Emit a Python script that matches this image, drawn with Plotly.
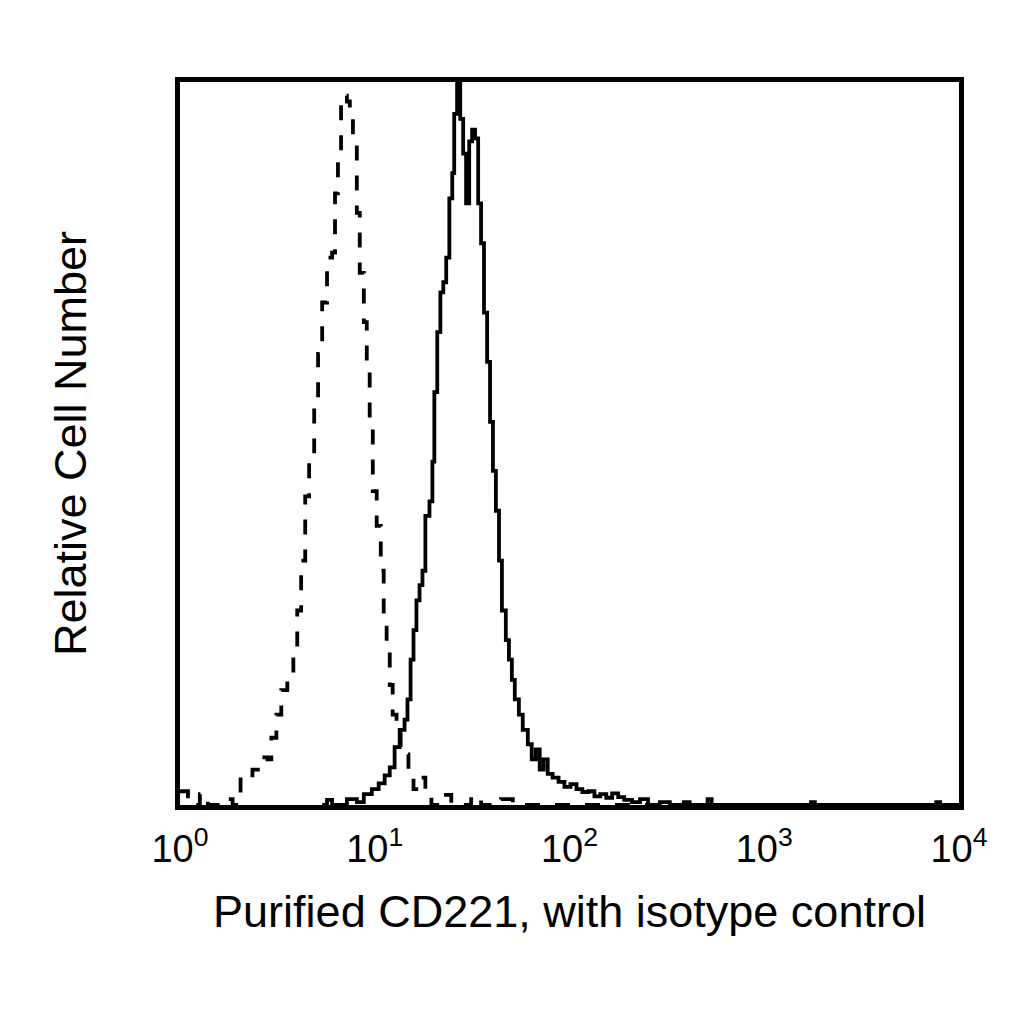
import plotly.graph_objects as go

# Isotype control (dashed): channel position in decades (log10 intensity) and relative count
iso_dec = [0.000, 0.041, 0.102, 0.143, 0.219, 0.270, 0.311, 0.321, 0.372, 0.413,
           0.449, 0.469, 0.495, 0.520, 0.551, 0.582, 0.602, 0.622, 0.643, 0.663,
           0.689, 0.709, 0.730, 0.755, 0.781, 0.796, 0.811, 0.827, 0.842, 0.857,
           0.872, 0.888, 0.908, 0.923, 0.944, 0.959, 0.974, 0.990, 1.010, 1.031,
           1.046, 1.061, 1.077, 1.092, 1.112, 1.133, 1.153, 1.173, 1.199, 1.230,
           1.260, 1.291, 1.342, 1.393, 1.495, 1.546, 1.648, 1.709, 4.000]
iso_cnt = [1.9, 0.0, 1.5, 0.0, 0.8, 0.0, 3.8, 3.6, 4.9, 6.6,
           6.3, 9.3, 12.5, 15.9, 17.3, 21.4, 26.9, 33.8, 42.7, 48.9,
           55.8, 62.4, 69.5, 75.7, 76.4, 84.6, 90.1, 97.0, 98.1, 97.3,
           95.6, 91.5, 81.9, 73.6, 66.8, 61.3, 53.0, 43.4, 38.6, 32.4,
           25.5, 21.4, 16.6, 12.5, 9.8, 8.0, 7.0, 4.3, 2.2, 3.8,
           2.2, 0.0, 1.4, 0.0, 1.2, 0.0, 0.8, 0.0, 0.0]

# Purified CD221 (solid)
cd_dec = [0.730, 0.755, 0.781, 0.857, 0.908, 0.944, 0.985, 1.020, 1.051, 1.077,
          1.102, 1.128, 1.153, 1.168, 1.184, 1.199, 1.214, 1.230, 1.245, 1.260,
          1.281, 1.296, 1.306, 1.321, 1.337, 1.352, 1.367, 1.383, 1.398, 1.408,
          1.423, 1.439, 1.454, 1.469, 1.485, 1.500, 1.515, 1.531, 1.546, 1.561,
          1.577, 1.592, 1.607, 1.622, 1.638, 1.653, 1.673, 1.689, 1.704, 1.719,
          1.740, 1.760, 1.786, 1.806, 1.827, 1.847, 1.867, 1.888, 1.913, 1.944,
          1.974, 2.005, 2.036, 2.066, 2.097, 2.128, 2.158, 2.189, 2.219, 2.250,
          2.281, 2.321, 2.362, 2.403, 2.464, 2.515, 2.587, 2.617, 2.709, 2.730,
          3.240, 3.260, 3.883, 3.903, 4.000]
cd_cnt = [0.0, 0.7, 0.0, 0.8, 0.4, 1.5, 2.2, 3.0, 4.1, 5.2,
          8.0, 10.4, 11.8, 14.6, 20.1, 24.2, 28.3, 30.4, 32.4, 40.0,
          42.0, 47.5, 57.1, 65.4, 70.9, 72.3, 75.7, 83.9, 87.4, 95.6,
          102.0, 94.9, 90.1, 83.2, 91.8, 93.4, 92.2, 83.2, 77.7, 68.1,
          61.3, 53.0, 46.2, 40.7, 33.8, 26.9, 22.8, 20.1, 17.3, 14.6,
          12.5, 10.4, 8.4, 6.3, 7.7, 4.9, 6.3, 4.3, 3.8, 3.2,
          2.5, 2.9, 2.2, 1.8, 1.9, 1.2, 1.5, 1.0, 1.6, 1.1,
          0.7, 0.4, 0.8, 0.0, 0.4, 0.0, 0.4, 0.0, 0.8, 0.0,
          0.4, 0.0, 0.4, 0.0, 0.0]

tick_vals = [1, 10, 100, 1000, 10000]
tick_text = ["10<sup>0</sup>", "10<sup>1</sup>", "10<sup>2</sup>", "10<sup>3</sup>", "10<sup>4</sup>"]

FONT = "Liberation Sans, Arial, sans-serif"

fig = go.Figure()
fig.add_trace(go.Scatter(
    x=[10 ** d for d in iso_dec], y=iso_cnt, mode="lines", line_shape="hv",
    line=dict(color="black", width=3.8, dash="15px,15px"), showlegend=False,
))
fig.add_trace(go.Scatter(
    x=[10 ** d for d in cd_dec], y=cd_cnt, mode="lines", line_shape="hv",
    line=dict(color="black", width=3.8), showlegend=False,
))

fig.update_layout(
    width=1024, height=1024,
    margin=dict(l=172, r=73, t=74, b=227),
    paper_bgcolor="white", plot_bgcolor="white",
    font=dict(family=FONT, color="black"),
    xaxis=dict(
        type="log", range=[0, 4], showgrid=False, zeroline=False,
        showline=True, linecolor="black", linewidth=5, mirror=True,
        ticks="", tickvals=tick_vals, ticktext=tick_text,
        tickfont=dict(size=38, family=FONT, color="black"),
        ticklabelstandoff=6,
        title=dict(text="Purified CD221, with isotype control",
                   font=dict(size=45, family=FONT, color="black"), standoff=28),
        automargin=False,
    ),
    yaxis=dict(
        range=[0, 100], showgrid=False, zeroline=False,
        showline=True, linecolor="black", linewidth=5, mirror=True,
        ticks="", showticklabels=False,
        title=dict(text="Relative Cell Number",
                   font=dict(size=45, family=FONT, color="black"), standoff=76),
        automargin=False,
    ),
)

fig.write_html("out.html")
